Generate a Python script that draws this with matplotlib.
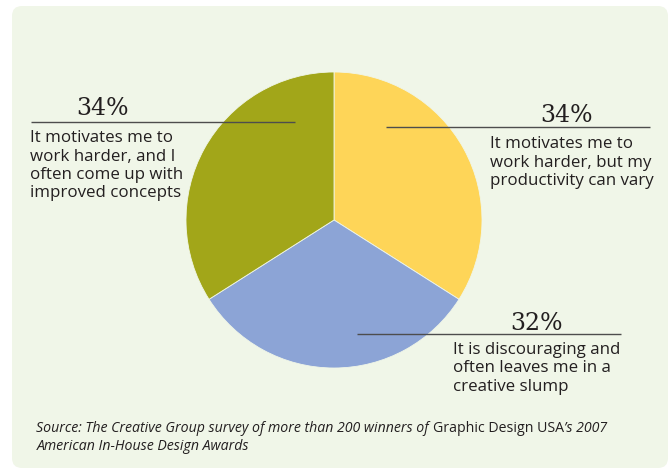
import matplotlib
matplotlib.use('Agg')
import matplotlib.pyplot as plt
from matplotlib.patches import FancyBboxPatch

W, H = 670, 470

# survey answers, drawn clockwise from 12 o'clock
shares = [34, 32, 34]
colors = ['#FED558', '#8CA4D6', '#A2A619']
pct_labels = ['34%', '32%', '34%']
answers = [
    ['It motivates me to', 'work harder, but my', 'productivity can vary'],
    ['It is discouraging and', 'often leaves me in a', 'creative slump'],
    ['It motivates me to', 'work harder, and I', 'often come up with', 'improved concepts'],
]

source_line1 = [('Source: The Creative Group survey of more than 200 winners of ', 'italic'),
                ('Graphic Design USA', 'normal'),
                ('\u2019s 2007', 'italic')]
source_line2 = [('American In-House Design Awards', 'italic')]

BODY_FONT = 'Open Sans'
PCT_FONT = 'DejaVu Serif'
TEXT_COLOR = '#231F20'


def Y(py):
    # convert a top-down pixel row to data y
    return H - py


fig = plt.figure(figsize=(W / 100, H / 100), dpi=100)
ax = fig.add_axes([0, 0, 1, 1])

# rounded light green panel
panel = FancyBboxPatch((12 + 10, Y(468) + 10), 656 - 20, 462 - 20,
                       boxstyle='round,pad=10', facecolor='#F0F6E8',
                       edgecolor='none', zorder=0)
ax.add_patch(panel)

ax.pie(shares, colors=colors, startangle=90, counterclock=False,
       center=(334, Y(220)), radius=148, frame=True,
       wedgeprops=dict(linewidth=0.6, edgecolor='#F0F6E8'))
ax.set_xlim(0, W)
ax.set_ylim(0, H)
ax.set_aspect('equal')
ax.axis('off')

# label layout: (leader x0, x1, leader row, pct centre x, pct baseline, text x, first baseline)
layout = [
    (386, 650, 127, 567, 122, 490, 148.5),
    (357, 621, 334, 536, 330.5, 453, 354),
    (31, 295, 122, 102, 115, 29.5, 142.3),
]

for (x0, x1, ly, px, pb, tx, tb), pct, lines in zip(layout, pct_labels, answers):
    ax.plot([x0, x1], [Y(ly), Y(ly)], color='#4D4D4D', linewidth=1.0,
            solid_capstyle='butt', zorder=3)
    ax.text(px, Y(pb), pct, fontsize=17, family=PCT_FONT, color=TEXT_COLOR,
            ha='center', va='baseline', zorder=4)
    for i, line in enumerate(lines):
        ax.text(tx, Y(tb + i * 18.3), line, fontsize=12.2, family=BODY_FONT,
                color=TEXT_COLOR, ha='left', va='baseline', zorder=4)

# source note with mixed italic / upright runs
renderer = fig.canvas.get_renderer()
inv = ax.transData.inverted()
for row, pieces in zip([432.3, 450.3], [source_line1, source_line2]):
    x = 36.5
    for s, style in pieces:
        t = ax.text(x, Y(row), s, fontsize=10.2, family=BODY_FONT, style=style,
                    color=TEXT_COLOR, ha='left', va='baseline')
        bb = t.get_window_extent(renderer=renderer)
        x = inv.transform((bb.x1, bb.y0))[0]

fig.savefig('out.png', dpi=100, facecolor='white')
